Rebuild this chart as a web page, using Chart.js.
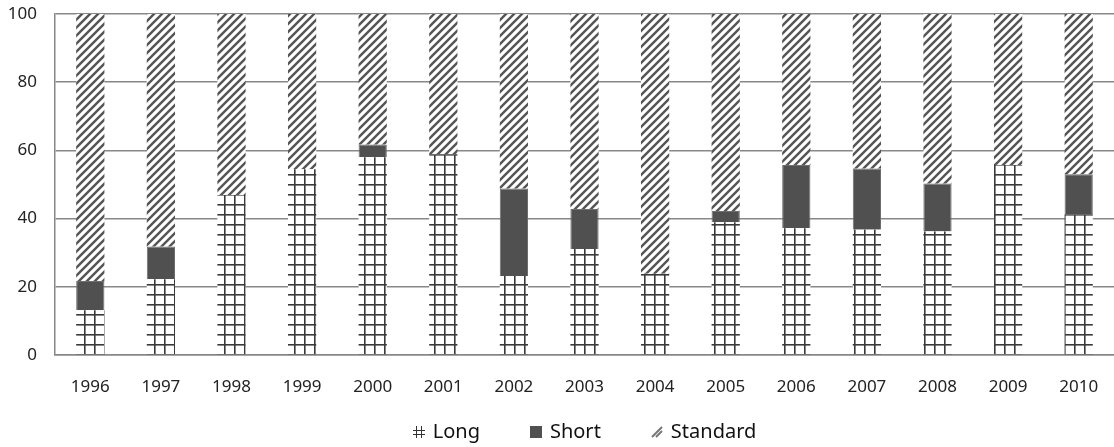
<!DOCTYPE html>
<html>
<head>
<meta charset="utf-8">
<script src="https://cdn.jsdelivr.net/npm/chart.js@4.4.1/dist/chart.umd.min.js"></script>
<style>
  html, body { margin: 0; padding: 0; background: #fff; }
</style>
</head>
<body>
<canvas id="chart" width="1114" height="447"></canvas>
<script>
// shares (%), stacked bottom to top
const years = ['1996', '1997', '1998', '1999', '2000', '2001', '2002', '2003', '2004', '2005', '2006', '2007', '2008', '2009', '2010'];
const longShare = [13.1, 22.2, 46.9, 54.5, 58.0, 58.9, 23.2, 31.1, 23.8, 38.9, 37.2, 36.7, 36.2, 55.7, 41.3];
const shortShare = [8.6, 9.6, 0, 0, 3.7, 0, 25.6, 11.7, 0, 3.3, 18.5, 18.0, 14.1, 0, 11.7];
const standardShare = [78.3, 68.2, 53.1, 45.5, 38.3, 41.1, 51.2, 57.2, 76.2, 57.8, 44.3, 45.3, 49.7, 44.3, 47.0];

const FONT = '"Noto Sans", sans-serif';

function makeTile(w, h, draw) {
    const c = document.createElement('canvas');
    c.width = w;
    c.height = h;
    draw(c.getContext('2d'));
    return c;
}

// grid fill for Long
const gridTile = makeTile(10, 10, g => {
    g.fillStyle = '#fff';
    g.fillRect(0, 0, 10, 10);
    g.fillStyle = '#3a3a3a';
    g.fillRect(4, 0, 1.6, 10);
    g.fillRect(0, 4, 10, 1.6);
});
// diagonal hatch for Standard
const hatchTile = makeTile(8, 8, g => {
    g.fillStyle = '#fff';
    g.fillRect(0, 0, 8, 8);
    g.strokeStyle = '#555';
    g.lineWidth = 2.4;
    g.beginPath();
    g.moveTo(-1, 9); g.lineTo(9, -1);
    g.moveTo(-2, 2); g.lineTo(2, -2);
    g.moveTo(6, 10); g.lineTo(10, 6);
    g.stroke();
});

const ctx = document.querySelector('#chart').getContext('2d');
const gridFill = ctx.createPattern(gridTile, 'repeat');
const hatchFill = ctx.createPattern(hatchTile, 'repeat');

// legend icons
const legendIcons = [
    makeTile(12, 14, g => {
        g.strokeStyle = '#333';
        g.lineWidth = 1;
        g.beginPath();
        g.moveTo(3.5, 1); g.lineTo(3.5, 13);
        g.moveTo(8.5, 1); g.lineTo(8.5, 13);
        g.moveTo(0, 5.5); g.lineTo(12, 5.5);
        g.moveTo(0, 9.5); g.lineTo(12, 9.5);
        g.stroke();
    }),
    makeTile(12, 14, g => {
        g.fillStyle = '#505050';
        g.fillRect(0, 1, 12, 12);
    }),
    makeTile(12, 14, g => {
        g.strokeStyle = '#777';
        g.lineWidth = 2;
        g.beginPath();
        g.moveTo(1, 12); g.lineTo(7, 6);
        g.moveTo(5, 8); g.lineTo(11, 2);
        g.moveTo(5, 12); g.lineTo(11, 6);
        g.stroke();
    })
];

const bottomLegend = {
    id: 'bottomLegend',
    afterDraw(chart) {
        const c = chart.ctx;
        const area = chart.chartArea;
        c.save();
        c.font = '20px ' + FONT;
        c.textBaseline = 'middle';
        c.fillStyle = '#111';
        const y = 432;
        const items = chart.data.datasets.map((ds, i) => ({ text: ds.label, icon: legendIcons[i] }));
        let total = 0;
        items.forEach(it => {
            it.w = it.icon.width + 8 + c.measureText(it.text).width;
            total += it.w;
        });
        total += 50 * (items.length - 1);
        let x = (area.left + area.right) / 2 - total / 2;
        items.forEach(it => {
            c.drawImage(it.icon, Math.round(x), Math.round(y - it.icon.height / 2));
            c.fillText(it.text, x + it.icon.width + 8, y);
            x += it.w + 50;
        });
        c.restore();
    }
};

new Chart(ctx, {
    type: 'bar',
    data: {
        labels: years,
        datasets: [
            { label: 'Long', data: longShare, backgroundColor: gridFill, borderWidth: 0 },
            { label: 'Short', data: shortShare, backgroundColor: '#505050', borderColor: '#6e6e6e', borderWidth: 1 },
            { label: 'Standard', data: standardShare, backgroundColor: hatchFill, borderWidth: 0 }
        ].map(ds => Object.assign(ds, { barPercentage: 0.4, categoryPercentage: 1 }))
    },
    options: {
        responsive: false,
        animation: false,
        devicePixelRatio: 1,
        layout: { padding: { top: 14, right: 0, left: 0, bottom: 0 } },
        plugins: {
            legend: { display: false },
            tooltip: { enabled: false }
        },
        scales: {
            x: {
                stacked: true,
                grid: { display: false },
                border: { display: true, color: '#888', width: 1.5 },
                ticks: { font: { family: FONT, size: 17 }, color: '#222', padding: 14, maxRotation: 0 },
                afterFit(s) { s.height = 92; s.paddingLeft = 0; s.paddingRight = 0; }
            },
            y: {
                stacked: true,
                min: 0,
                max: 100,
                grid: { color: '#888', lineWidth: 1.5, drawTicks: false },
                border: { display: true, color: '#888', width: 1.5 },
                ticks: { stepSize: 20, font: { family: FONT, size: 17 }, color: '#222', padding: 18 },
                afterFit(s) { s.width = 55; s.paddingTop = 0; s.paddingBottom = 0; }
            }
        }
    },
    plugins: [bottomLegend]
});
</script>
</body>
</html>
